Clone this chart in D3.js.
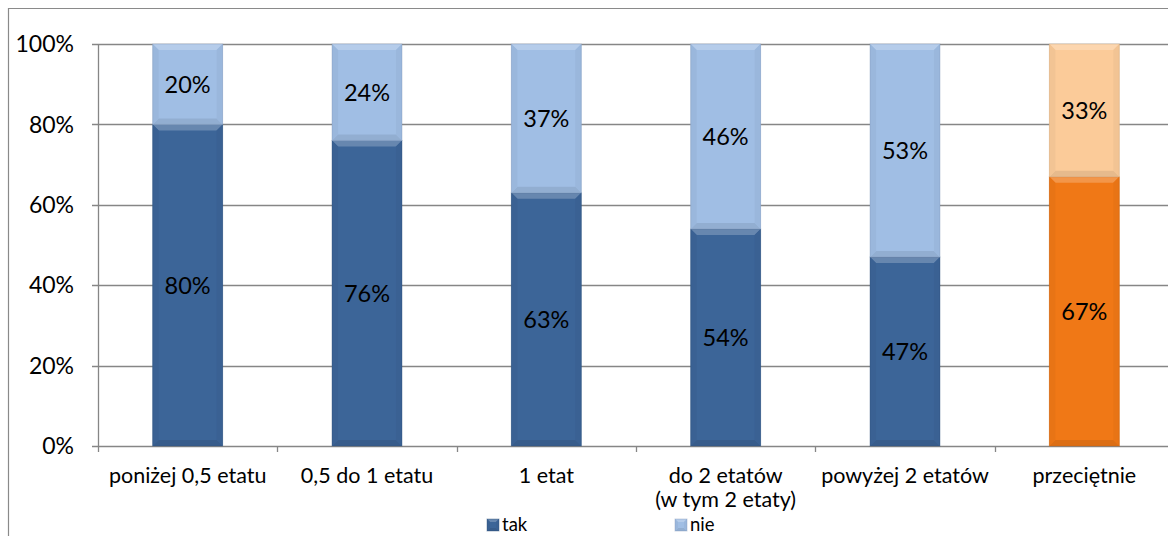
<!DOCTYPE html>
<html><head><meta charset="utf-8">
<script src="https://cdn.jsdelivr.net/npm/d3@7"></script>
<style>body{margin:0;background:#fff}svg{display:block}</style>
</head><body>
<svg id="c" width="1168" height="536"></svg>
<script>
const categories = ["poniżej 0,5 etatu","0,5 do 1 etatu","1 etat","do 2 etatów\n(w tym 2 etaty)","powyżej 2 etatów","przeciętnie"];
const tak = [80,76,63,54,47,67];
const nie = [20,24,37,46,53,33];
const yTicks = [0,20,40,60,80,100];
const seriesNames = ["tak","nie"];
const colTak = ["#3C6598","#3C6598","#3C6598","#3C6598","#3C6598","#F07816"];
const colNie = ["#A0BEE4","#A0BEE4","#A0BEE4","#A0BEE4","#A0BEE4","#FBCB99"];

const svg = d3.select("#c");
const font = "Lato, 'Open Sans', sans-serif";
const L=98, T=44, B=446, R=1174;
const x = d3.scaleBand().domain(categories).range([L,R]).paddingInner(0.61).paddingOuter(0.305);
const y = d3.scaleLinear().domain([0,100]).range([B,T]);

svg.append("path").attr("d","M8.5,536 V8.5 H1168").attr("fill","none").attr("stroke","#8a8a8a").attr("stroke-width",1.2);

svg.append("g").selectAll("line").data(yTicks).join("line")
  .attr("x1",L-6).attr("x2",R).attr("y1",d=>Math.round(y(d))+0.5).attr("y2",d=>Math.round(y(d))+0.5)
  .attr("stroke","#868686").attr("stroke-width",1.3);
svg.append("line").attr("x1",L+0.5).attr("x2",L+0.5).attr("y1",T).attr("y2",B).attr("stroke","#868686").attr("stroke-width",1.3);
const bw = (R-L)/categories.length;
svg.append("g").selectAll("line").data(d3.range(categories.length+1)).join("line")
  .attr("x1",i=>Math.round(L+i*bw)+0.5).attr("x2",i=>Math.round(L+i*bw)+0.5).attr("y1",B).attr("y2",B+6)
  .attr("stroke","#868686").attr("stroke-width",1.3);

svg.append("g").selectAll("text").data(yTicks).join("text")
  .attr("x",74).attr("y",d=>y(d)).attr("dy","0.36em").attr("text-anchor","end")
  .attr("font-family",font).attr("font-size",23).attr("fill","#000").text(d=>d+"%");

function bevelBar(g, x0, y0, w, h, color, bvMax){
  const bv = Math.min(bvMax||6, h/2);
  g.append("rect").attr("x",x0).attr("y",y0).attr("width",w).attr("height",h).attr("fill",color);
  const c = d3.color(color);
  const light = d3.interpolateRgb(color,"#fff")(0.22);
  const dark = c.darker(0.25);
  const side = c.darker(0.1);
  g.append("polygon").attr("points",`${x0},${y0} ${x0+w},${y0} ${x0+w-bv},${y0+bv} ${x0+bv},${y0+bv}`).attr("fill",light);
  g.append("polygon").attr("points",`${x0},${y0+h} ${x0+w},${y0+h} ${x0+w-bv},${y0+h-bv} ${x0+bv},${y0+h-bv}`).attr("fill",dark);
  g.append("polygon").attr("points",`${x0},${y0} ${x0+bv},${y0+bv} ${x0+bv},${y0+h-bv} ${x0},${y0+h}`).attr("fill",side);
  g.append("polygon").attr("points",`${x0+w},${y0} ${x0+w-bv},${y0+bv} ${x0+w-bv},${y0+h-bv} ${x0+w},${y0+h}`).attr("fill",side);
  g.append("rect").attr("x",x0).attr("y",y0).attr("width",w).attr("height",h).attr("fill","none").attr("stroke",c.darker(0.6)).attr("stroke-opacity",0.4).attr("stroke-width",1);
}
const bars = svg.append("g");
categories.forEach((cat,i)=>{
  const x0 = x(cat), w = x.bandwidth();
  bevelBar(bars, x0, y(tak[i]), w, y(0)-y(tak[i]), colTak[i]);
  bevelBar(bars, x0, y(100), w, y(tak[i])-y(100), colNie[i]);
});
const lab = svg.append("g").attr("font-family",font).attr("font-size",23.5).attr("fill","#000").attr("text-anchor","middle");
categories.forEach((cat,i)=>{
  const cx = x(cat)+x.bandwidth()/2;
  lab.append("text").attr("x",cx).attr("y",y(tak[i]/2)).attr("dy","0.36em").text(tak[i]+"%");
  lab.append("text").attr("x",cx).attr("y",y(tak[i]+nie[i]/2)).attr("dy","0.36em").text(nie[i]+"%");
});
const cl = svg.append("g").attr("font-family",font).attr("font-size",21.5).attr("fill","#000").attr("text-anchor","middle");
categories.forEach((cat,i)=>{
  cat.split("\n").forEach((s,j)=>cl.append("text").attr("x",L+(i+0.5)*bw).attr("y",483+j*24).text(s));
});
const leg = svg.append("g").attr("font-family",font).attr("font-size",18.5);
const legX = [487,675];
seriesNames.forEach((s,i)=>{
  const c = i? "#A0BEE4":"#3C6598";
  bevelBar(leg, legX[i], 519, 12, 12, c, 3);
  leg.append("text").attr("x",legX[i]+15).attr("y",531).text(s);
});
</script>
</body></html>
